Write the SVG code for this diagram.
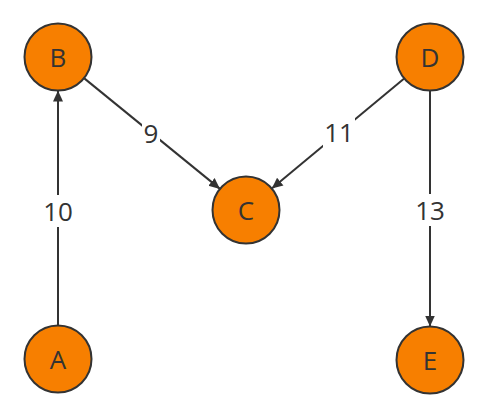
<svg xmlns="http://www.w3.org/2000/svg" width="487" height="419" viewBox="0 0 487 419">
<style>
.n{fill:#f77f00;stroke:#333;stroke-width:2}
.t{font-family:"Open Sans",sans-serif;font-size:26px;fill:#333;text-anchor:middle;dominant-baseline:central}
.e{stroke:#333;stroke-width:2;fill:none;marker-end:url(#ah)}
.bg{fill:#fff}
</style>
<defs>
<marker id="ah" markerUnits="userSpaceOnUse" markerWidth="12" markerHeight="12" refX="11" refY="5" orient="auto" viewBox="0 0 12 10">
<path d="M0,0 L11,5 L0,10 z" fill="#333"/>
</marker>
</defs>
<g id="edges">
<g id="e-A-B"><line class="e" x1="58" y1="325.5" x2="58" y2="90.5"/><rect class="bg" x="42" y="195" width="32" height="32"/><text class="t" x="58" y="211">10</text></g>
<g id="e-B-C"><line class="e" x1="84" y1="78.1" x2="220" y2="188.9"/><rect class="bg" x="142" y="117" width="18" height="32"/><text class="t" x="151" y="133">9</text></g>
<g id="e-D-C"><line class="e" x1="404.2" y1="78.4" x2="271.8" y2="188.6"/><rect class="bg" x="323" y="116" width="32" height="32"/><text class="t" x="339" y="132">11</text></g>
<g id="e-D-E"><line class="e" x1="430" y1="90.5" x2="430" y2="326.5"/><rect class="bg" x="414" y="194" width="32" height="32"/><text class="t" x="430" y="210">13</text></g>
</g>
<g id="B"><circle class="n" cx="58" cy="57" r="33.5"/><text class="t" x="58" y="57">B</text></g>
<g id="D"><circle class="n" cx="430" cy="57" r="33.5"/><text class="t" x="430" y="57">D</text></g>
<g id="C"><circle class="n" cx="246" cy="210" r="33.5"/><text class="t" x="246" y="210">C</text></g>
<g id="A"><circle class="n" cx="58" cy="359" r="33.5"/><text class="t" x="58" y="359">A</text></g>
<g id="E"><circle class="n" cx="430" cy="360" r="33.5"/><text class="t" x="430" y="360">E</text></g>
</svg>
